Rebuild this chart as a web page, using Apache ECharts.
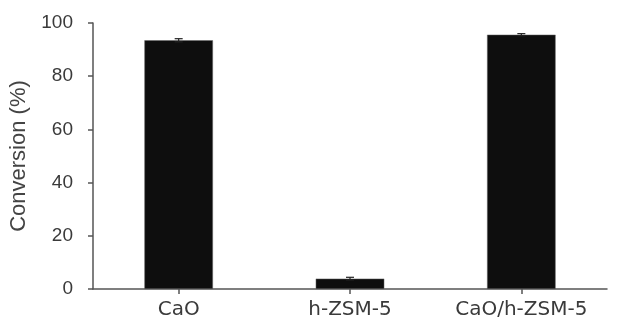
<!DOCTYPE html>
<html><head><meta charset="utf-8">
<script src="https://cdn.jsdelivr.net/npm/echarts@6/dist/echarts.min.js"></script>
<style>html,body{margin:0;padding:0;background:#fff}#c{width:624px;height:320px}</style>
</head><body><div id="c"></div>
<script>
var categories = ['CaO', 'h-ZSM-5', 'CaO/h-ZSM-5'];
var conversion = [93.5, 3.9, 95.6];
var errors = [0.6, 0.5, 0.4];
var yTicks = [0, 20, 40, 60, 80, 100];

var chart = echarts.init(document.getElementById('c'));
var font = 'Liberation Sans, Arial, sans-serif';
chart.setOption({
  animation: false,
  grid: {left: 93, right: 17, top: 23, bottom: 31},
  xAxis: {
    type: 'category', data: categories,
    axisLine: {lineStyle: {color: '#555', width: 1.5}},
    axisTick: {show: true, alignWithLabel: true, length: 5, lineStyle: {color: '#555', width: 1.5}},
    axisLabel: {interval: 0, hideOverlap: false, color: '#3a3a3a', fontSize: 20, fontFamily: 'DejaVu Sans, sans-serif', margin: 11}
  },
  yAxis: {
    type: 'value', min: 0, max: 100, interval: 20,
    name: 'Conversion (%)', nameLocation: 'middle', nameGap: 56,
    nameTextStyle: {color: '#444', fontSize: 22, fontFamily: font},
    axisLine: {show: true, lineStyle: {color: '#555', width: 1.5}},
    axisTick: {show: true, length: 5, lineStyle: {color: '#555', width: 1.5}},
    axisLabel: {color: '#3a3a3a', fontSize: 19, fontFamily: font, margin: 20,
      formatter: function (v) { return yTicks.indexOf(v) >= 0 ? String(v) : ''; }},
    splitLine: {show: false}
  },
  series: [{
    type: 'bar', data: conversion, barWidth: '40%',
    itemStyle: {color: '#0e0e0e', borderColor: '#666', borderWidth: 0.5}
  }, {
    type: 'custom',
    data: categories.map(function (c, i) { return [i, conversion[i] - errors[i], conversion[i] + errors[i]]; }),
    renderItem: function (params, api) {
      var lo = api.coord([api.value(0), api.value(1)]);
      var hi = api.coord([api.value(0), api.value(2)]);
      var hw = 4;
      return {type: 'group', children: [
        {type: 'line', shape: {x1: hi[0], y1: hi[1], x2: lo[0], y2: lo[1]}, style: {stroke: '#222', lineWidth: 1.2}},
        {type: 'line', shape: {x1: hi[0] - hw, y1: hi[1], x2: hi[0] + hw, y2: hi[1]}, style: {stroke: '#222', lineWidth: 1.2}},
        {type: 'line', shape: {x1: lo[0] - hw, y1: lo[1], x2: lo[0] + hw, y2: lo[1]}, style: {stroke: '#222', lineWidth: 1.2}}
      ]};
    },
    z: 5
  }]
});
</script></body></html>
